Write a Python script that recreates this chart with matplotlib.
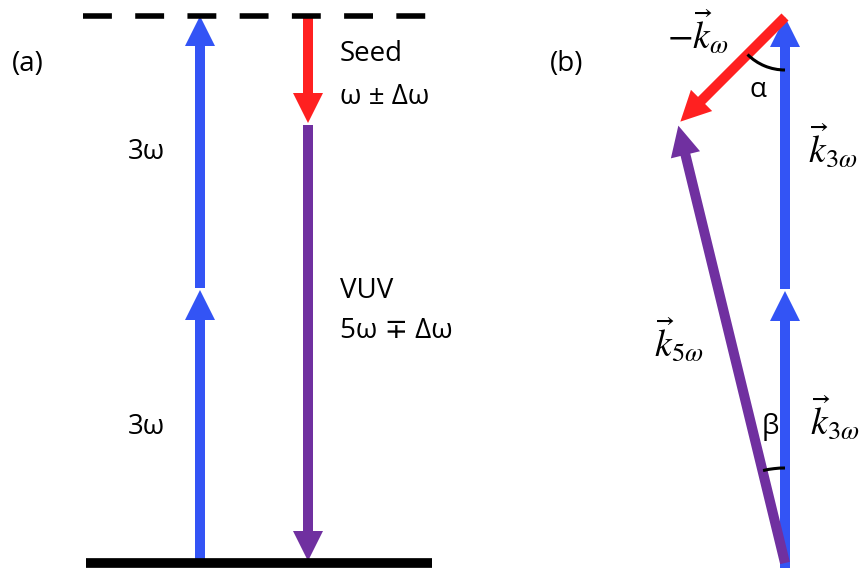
import numpy as np
import matplotlib
matplotlib.use("Agg")
import matplotlib.pyplot as plt
from matplotlib.patches import FancyArrow, Arc

# colours of the beams
blue = '#3354F5'
red = '#FF2020'
purple = '#7030A0'

# (a) energy levels (pixel rows) and arrow columns
level_ground = 563
level_mid = 289
level_seed = 123
level_virtual = 16
x_pump = 200
x_seed = 308
level_span = [86, 432]

# (b) wave-vector sketch: k_5w = 2 k_3w - k_w
origin_b = (785, 563)
k3w_len = 273
kw_len = 148
alpha_deg = 45.0

plt.rcParams['font.family'] = ['Open Sans', 'DejaVu Sans']
plt.rcParams['mathtext.fontset'] = 'stix'

fig = plt.figure(figsize=(8.64, 5.68), dpi=100)
ax = fig.add_axes([0, 0, 1, 1])
ax.set_xlim(0, 864)
ax.set_ylim(568, 0)
ax.axis('off')


def arrow(x0, y0, x1, y1, c):
    ax.add_patch(FancyArrow(x0, y0, x1 - x0, y1 - y0, width=10, head_width=30,
                            head_length=30, length_includes_head=True,
                            color=c, lw=0))


# ---- panel (a): level scheme ----
ax.plot(level_span, [level_ground, level_ground], color='k', lw=7,
        solid_capstyle='butt')
ax.plot([83, 427], [level_virtual, level_virtual], color='k', lw=4,
        linestyle=(0, (5.2, 4.2)), dash_capstyle='butt')

arrow(x_pump, level_ground, x_pump, level_mid + 1, blue)
arrow(x_pump, level_mid - 1, x_pump, level_virtual, blue)
arrow(x_seed, level_virtual + 2, x_seed, level_seed, red)
arrow(x_seed, level_seed + 2, x_seed, level_ground - 2, purple)

fs = 20
ax.text(12, 64, '(a)', fontsize=fs, ha='left', va='center')
ax.text(128, 152, '3ω', fontsize=fs, ha='left', va='center')
ax.text(128, 427, '3ω', fontsize=fs, ha='left', va='center')
ax.text(340, 54, 'Seed', fontsize=fs, ha='left', va='center')
ax.text(340, 97, 'ω ± Δω', fontsize=fs, ha='left', va='center')
ax.text(340, 291, 'VUV', fontsize=fs, ha='left', va='center')
ax.text(340, 331, '5ω ∓ Δω', fontsize=fs, ha='left', va='center')

# ---- panel (b): phase matching triangle ----
ox, oy = origin_b
mid_y = oy - k3w_len
top_y = mid_y - k3w_len
a = np.radians(alpha_deg)
end_x = ox - kw_len * np.sin(a)
end_y = top_y + kw_len * np.cos(a)

arrow(ox, oy + 8, ox, mid_y + 1, blue)
arrow(ox, mid_y - 1, ox, top_y, blue)
arrow(ox, top_y, end_x, end_y, red)
arrow(ox, oy, end_x - 2, end_y + 4, purple)

# angle marks
ax.add_patch(Arc((ox, top_y), 106, 106, theta1=90, theta2=90 + alpha_deg,
                 color='k', lw=2.2))
beta = np.degrees(np.arctan2(end_y - oy, end_x - ox)) % 360
ax.add_patch(Arc((ox, oy), 190, 190, theta1=beta, theta2=270,
                 color='k', lw=2.2))

ax.text(550, 64, '(b)', fontsize=fs, ha='left', va='center')
ax.text(758, 90, 'α', fontsize=fs, ha='center', va='center')
ax.text(770, 427, 'β', fontsize=fs, ha='center', va='center')

ms = 27
ax.text(667, 33, r'$-\vec{k}_{\omega}$', fontsize=ms, ha='left', va='center')
ax.text(808, 148, r'$\vec{k}_{3\omega}$', fontsize=ms, ha='left', va='center')
ax.text(810, 420, r'$\vec{k}_{3\omega}$', fontsize=ms, ha='left', va='center')
ax.text(654, 342, r'$\vec{k}_{5\omega}$', fontsize=ms, ha='left', va='center')

fig.savefig('out.png', dpi=100)
